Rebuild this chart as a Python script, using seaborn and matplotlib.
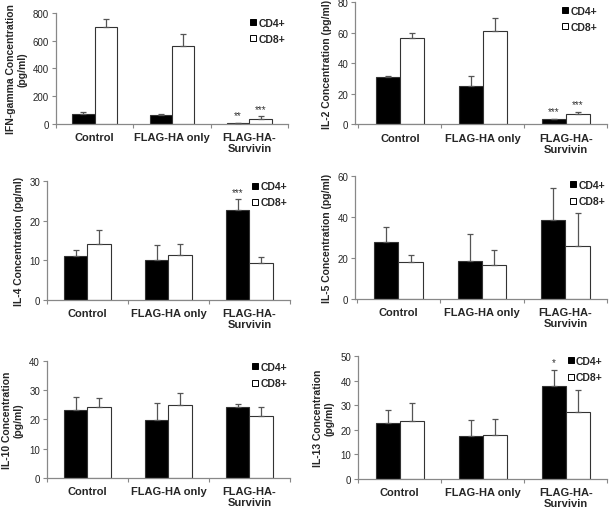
# cytokine_panels.py
# Six bar panels: cytokine concentration for CD4+ / CD8+ T cells

import pandas as pd
import matplotlib
matplotlib.use("Agg")
import matplotlib.pyplot as plt
from matplotlib.lines import Line2D
import seaborn as sns

# Data
categories = ["Control", "FLAG-HA only", "FLAG-HA-\nSurvivin"]
cells = ["CD4+", "CD8+"]

ifn_cd4 = [72, 62, 8]
ifn_cd4_err = [12, 8, 1]
ifn_cd8 = [695, 560, 36]
ifn_cd8_err = [60, 85, 18]

il2_cd4 = [30.8, 25.2, 3.3]
il2_cd4_err = [0.8, 6.3, 0.5]
il2_cd8 = [56.2, 61.0, 7.0]
il2_cd8_err = [3.6, 8.3, 1.3]

il4_cd4 = [11.1, 10.1, 22.6]
il4_cd4_err = [1.6, 3.8, 2.8]
il4_cd8 = [14.1, 11.4, 9.3]
il4_cd8_err = [3.6, 2.6, 1.5]

il5_cd4 = [27.7, 18.8, 38.8]
il5_cd4_err = [7.3, 12.8, 15.6]
il5_cd8 = [18.1, 16.7, 26.0]
il5_cd8_err = [3.3, 7.5, 16.0]

il10_cd4 = [23.3, 19.6, 24.3]
il10_cd4_err = [4.3, 6.0, 0.9]
il10_cd8 = [24.2, 24.9, 21.2]
il10_cd8_err = [3.1, 3.9, 2.9]

il13_cd4 = [22.6, 17.4, 37.8]
il13_cd4_err = [5.6, 6.7, 6.6]
il13_cd8 = [23.7, 17.9, 27.1]
il13_cd8_err = [7.2, 6.4, 9.0]

# significance stars (CD4, CD8) per category
ifn_stars = [("", ""), ("", ""), ("**", "***")]
il2_stars = [("", ""), ("", ""), ("***", "***")]
il4_stars = [("", ""), ("", ""), ("***", "")]
none_stars = [("", ""), ("", ""), ("", "")]
il13_stars = [("", ""), ("", ""), ("*", "")]

ylabels = ["IFN-gamma Concentration\n(pg/ml)", "IL-2 Concentration (pg/ml)",
           "IL-4 Concentration (pg/ml)", "IL-5 Concentration (pg/ml)",
           "IL-10 Concentration\n(pg/ml)", "IL-13 Concentration\n(pg/ml)"]
ymax = [800, 80, 30, 60, 40, 50]
ystep = [200, 20, 10, 20, 10, 10]

panels = [
    (ifn_cd4, ifn_cd4_err, ifn_cd8, ifn_cd8_err, ifn_stars),
    (il2_cd4, il2_cd4_err, il2_cd8, il2_cd8_err, il2_stars),
    (il4_cd4, il4_cd4_err, il4_cd8, il4_cd8_err, il4_stars),
    (il5_cd4, il5_cd4_err, il5_cd8, il5_cd8_err, none_stars),
    (il10_cd4, il10_cd4_err, il10_cd8, il10_cd8_err, none_stars),
    (il13_cd4, il13_cd4_err, il13_cd8, il13_cd8_err, il13_stars),
]

# axes boxes in figure fraction [left, bottom, width, height]
boxes = [
    [0.092, 0.755, 0.381, 0.218],
    [0.583, 0.754, 0.414, 0.240],
    [0.077, 0.410, 0.399, 0.233],
    [0.583, 0.412, 0.414, 0.240],
    [0.077, 0.061, 0.399, 0.230],
    [0.588, 0.059, 0.409, 0.241],
]
xlims = [(-0.40, 2.47), (-0.54, 2.50), (-0.50, 2.46),
         (-0.52, 2.48), (-0.47, 2.40), (-0.50, 2.47)]
legend_anchor = [(1.02, 1.02), (0.99, 1.03), (1.02, 1.06),
                 (1.02, 1.03), (1.02, 1.05), (1.012, 1.06)]

sns.set_style("white")
plt.rcParams["font.family"] = ["Liberation Sans", "DejaVu Sans"]

fig = plt.figure(figsize=(6.09, 5.10), dpi=100)
edge = "#333333"
errc = "#555555"

for i, (cd4, cd4e, cd8, cd8e, stars) in enumerate(panels):
    ax = fig.add_axes(boxes[i])
    df = pd.DataFrame({
        "group": categories * 2,
        "cell": [cells[0]] * 3 + [cells[1]] * 3,
        "value": cd4 + cd8,
    })
    sns.barplot(data=df, x="group", y="value", hue="cell", order=categories,
                hue_order=cells, palette=["black", "white"], width=0.58,
                edgecolor=edge, linewidth=0.8, errorbar=None, legend=False, ax=ax)

    errs = [cd4e, cd8e]
    vals = [cd4, cd8]
    bar_sets = list(ax.containers)
    for k, cont in enumerate(bar_sets):
        xs = [p.get_x() + p.get_width() / 2 for p in cont.patches]
        ax.errorbar(xs, vals[k], yerr=[[0] * 3, errs[k]], fmt="none",
                    ecolor=errc, elinewidth=0.9, capsize=2.5, capthick=0.9, zorder=3)
        for j, x in enumerate(xs):
            s = stars[j][k]
            if s:
                ax.text(x, vals[k][j] + errs[k][j] + ymax[i] * 0.02, s,
                        ha="center", va="bottom", fontsize=7, color="#333333")

    ax.set_ylim(0, ymax[i])
    ax.set_yticks(range(0, ymax[i] + 1, ystep[i]))
    ax.set_xlim(*xlims[i])
    ax.set_xlabel("")
    ax.set_ylabel(ylabels[i], fontsize=7.5, fontweight="bold", labelpad=4)
    ax.set_xticks(range(3))
    ax.set_xticklabels(categories, fontsize=8, fontweight="bold", linespacing=1.1)
    ax.tick_params(axis="x", length=0, pad=6)
    ax.tick_params(axis="y", labelsize=7, length=3, width=0.8, color="#888888",
                   direction="out", left=True, pad=2)
    ax.set_xticks([-0.5, 0.5, 1.5, 2.5], minor=True)
    ax.tick_params(axis="x", which="minor", length=3, width=0.8, color="#888888",
                   direction="out", bottom=True)
    sns.despine(ax=ax)
    for sp in ["left", "bottom"]:
        ax.spines[sp].set_color("#888888")
        ax.spines[sp].set_linewidth(0.9)

    handles = [Line2D([], [], marker="s", ls="none", markersize=5,
                      markerfacecolor=c, markeredgecolor="black", markeredgewidth=0.7)
               for c in ["black", "white"]]
    leg = ax.legend(handles, cells, loc="upper right", bbox_to_anchor=legend_anchor[i],
                    frameon=False, handlelength=0.6, handletextpad=0.2,
                    labelspacing=0.6, borderpad=0.2, prop={"size": 7.5, "weight": "bold"})

fig.savefig("out.png", dpi=100)
